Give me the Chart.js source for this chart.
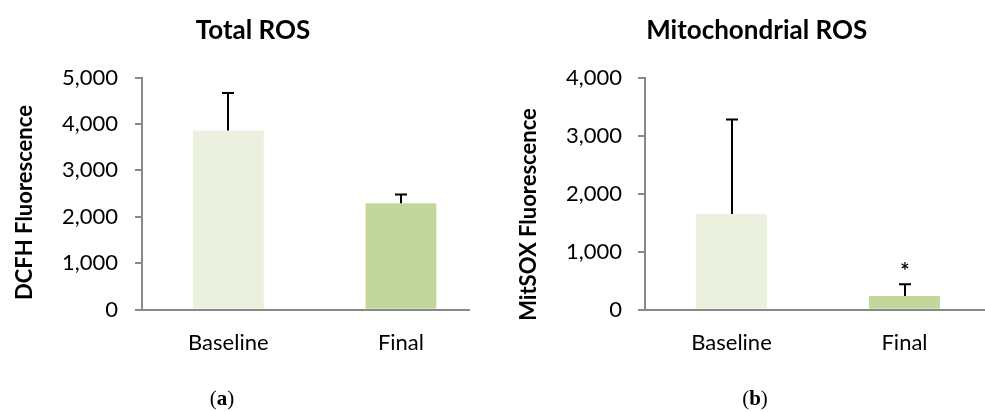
<!DOCTYPE html>
<html>
<head>
<meta charset="utf-8">
<script src="https://cdn.jsdelivr.net/npm/chart.js@4/dist/chart.umd.min.js"></script>
<style>
  html, body { margin: 0; padding: 0; background: #fff; overflow: hidden; width: 985px; height: 412px; }
  canvas { position: absolute; top: 0; }
  #chartTotal { left: 0; }
  #chartMito { left: 510px; }
  .panel-tag {
    position: absolute; top: 398px; transform: translate(-50%, -50%);
    font-family: "Liberation Serif", "DejaVu Serif", serif; font-size: 21px; color: #000;
  }
</style>
</head>
<body>
<canvas id="chartTotal" width="470" height="412"></canvas>
<canvas id="chartMito" width="481" height="412"></canvas>
<div class="panel-tag" style="left:222px">(<b>a</b>)</div>
<div class="panel-tag" style="left:755px">(<b>b</b>)</div>

<script>
// Groups on the x axis
const categories = ['Baseline', 'Final'];

// Panel (a): total ROS, DCFH fluorescence (mean and +SD)
const totalRos = [3858, 2293];
const totalRosSd = [806, 185];
const totalRosMarks = ['', ''];

// Panel (b): mitochondrial ROS, MitSOX fluorescence (mean and +SD)
const mitoRos = [1647, 236];
const mitoRosSd = [1630, 201];
const mitoRosMarks = ['', '*'];

// Y axis ranges
const totalTicksMax = 5000;
const mitoTicksMax = 4000;
const tickStep = 1000;

const barColors = ['#EBF1DE', '#C3D69B'];
const axisGray = '#898989';

Chart.defaults.font.family = 'Lato, "Open Sans", sans-serif';
Chart.defaults.color = '#000';

// Upward-only error bars with a cap, plus significance marks above them
const errorBarPlugin = {
  id: 'errorBars',
  afterDatasetsDraw(chart) {
    const { ctx, scales: { x, y } } = chart;
    const ds = chart.data.datasets[0];
    ctx.save();
    ctx.strokeStyle = '#000';
    ctx.lineWidth = 2;
    ds.data.forEach((pt, i) => {
      const px = Math.round(x.getPixelForValue(pt.x));
      const y0 = y.getPixelForValue(pt.y);
      const y1 = y.getPixelForValue(pt.y + ds.errors[i]);
      ctx.beginPath();
      ctx.moveTo(px, y0);
      ctx.lineTo(px, y1);
      ctx.moveTo(px - 6, y1);
      ctx.lineTo(px + 6, y1);
      ctx.stroke();
      if (ds.marks[i]) {
        ctx.fillStyle = '#000';
        ctx.font = 'bold 22px Lato';
        ctx.textAlign = 'center';
        ctx.textBaseline = 'alphabetic';
        ctx.fillText(ds.marks[i], px, y1 - 5);
      }
    });
    ctx.restore();
  }
};

// Rotated y-axis caption placed beside the tick labels
const sideTitlePlugin = {
  id: 'sideTitle',
  afterDraw(chart, args, opts) {
    const { ctx } = chart;
    ctx.save();
    ctx.translate(opts.x, opts.y);
    ctx.rotate(-Math.PI / 2);
    ctx.font = 'bold 22px Lato';
    ctx.fillStyle = '#000';
    ctx.textAlign = 'center';
    ctx.textBaseline = 'middle';
    ctx.fillText(opts.text, 0, 0);
    ctx.restore();
  }
};

function buildChart(canvasId, cfg) {
  const points = cfg.values.map((v, i) => ({ x: i, y: v }));
  return new Chart(document.getElementById(canvasId), {
    type: 'bar',
    data: {
      datasets: [{
        data: points,
        errors: cfg.errors,
        marks: cfg.marks,
        backgroundColor: barColors,
        borderWidth: 0,
        barPercentage: 0.41,
        categoryPercentage: 1
      }]
    },
    plugins: [errorBarPlugin, sideTitlePlugin],
    options: {
      responsive: false,
      animation: false,
      layout: { padding: { left: cfg.padLeft, right: 0, top: 0, bottom: 0 } },
      plugins: {
        legend: { display: false },
        tooltip: { enabled: false },
        title: {
          display: true,
          text: cfg.title,
          color: '#000',
          font: { size: 26, weight: 'bold' },
          padding: { top: 15, bottom: 31.3 }
        },
        sideTitle: { text: cfg.yTitle, x: cfg.yTitleX, y: cfg.yTitleY }
      },
      scales: {
        x: {
          type: 'linear',
          min: -0.5,
          max: cfg.xMax,
          offset: false,
          bounds: 'data',
          grid: { display: false, drawTicks: false, offset: false },
          border: { display: true, color: axisGray, width: 2 },
          ticks: {
            color: '#000',
            font: { size: 22 },
            padding: 20,
            maxRotation: 0,
            callback: v => categories[v]
          },
          afterBuildTicks: s => { s.ticks = categories.map((_, i) => ({ value: i })); },
          afterFit: s => { s.height = 102.3; }
        },
        y: {
          min: 0,
          max: cfg.yMax,
          ticks: {
            stepSize: tickStep,
            color: '#000',
            font: { size: 22 },
            padding: cfg.tickPad,
            callback: v => v.toLocaleString('en-US')
          },
          grid: { display: true, drawOnChartArea: false, drawTicks: true, tickLength: 7, color: axisGray, lineWidth: 2 },
          border: { display: true, color: axisGray, width: 2 },
          afterFit: s => { s.width = cfg.yWidth; }
        }
      }
    }
  });
}

function drawAll() {
  buildChart('chartTotal', {
    title: 'Total ROS',
    yTitle: 'DCFH Fluorescence',
    values: totalRos, errors: totalRosSd, marks: totalRosMarks,
    yMax: totalTicksMax, xMax: 1.4,
    padLeft: 36, yWidth: 106, tickPad: 17,
    yTitleX: 25, yTitleY: 202.5
  });
  buildChart('chartMito', {
    title: 'Mitochondrial ROS',
    yTitle: 'MitSOX Fluorescence',
    values: mitoRos, errors: mitoRosSd, marks: mitoRosMarks,
    yMax: mitoTicksMax, xMax: 1.5,
    padLeft: 12.4, yWidth: 122.6, tickPad: 16,
    yTitleX: 19, yTitleY: 214.5
  });
}

Promise.all([
  document.fonts.load('22px Lato'),
  document.fonts.load('bold 22px Lato')
]).then(drawAll, drawAll);
</script>
</body>
</html>
